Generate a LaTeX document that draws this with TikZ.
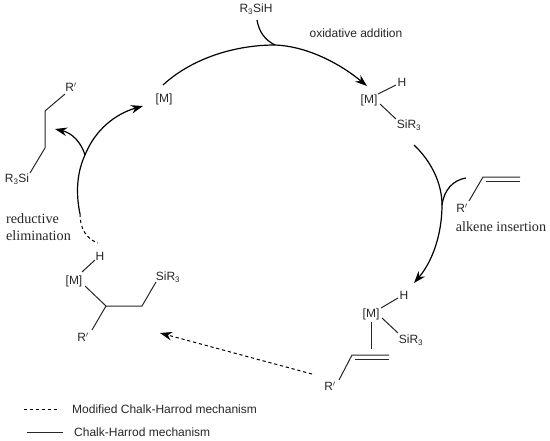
\documentclass[tikz,border=0pt]{standalone}
\usepackage{fontspec}
\setmainfont{Liberation Serif}
\setsansfont{Liberation Sans}
\usetikzlibrary{arrows.meta}
\tikzset{
  chem/.style={inner sep=0pt,font=\sffamily\fontsize{12}{14}\selectfont,text=black!85},
  lab/.style={inner sep=0pt,font=\fontsize{14.2}{17}\selectfont,align=left,text=black!85},
  bond/.style={line width=1pt,black!85},
  curve/.style={line width=1.2pt,black},
  tip/.style={-{Stealth[length=12pt,width=8.5pt]}},
  dashline/.style={line width=1pt,black,dash pattern=on 3.2pt off 2.8pt}
}
\newcommand{\subt}{\textsubscript{3}}
\begin{document}
\begin{tikzpicture}[x=1pt,y=-1pt]
\useasboundingbox (0,0) rectangle (550,440);
% top
\node[chem] (rsih) at (256,9) {R\subt SiH};
\node[chem] (oxlab) at (356,33) {oxidative addition};
\node[chem] (m1) at (164,99) {[M]};
% complex 2
\node[chem] (m2) at (369,100) {[M]};
\node[chem] (h2) at (402,82) {H};
\node[chem] (si2) at (409,125) {SiR\subt};
\coordinate (m2a) at (378,94); \coordinate (h2a) at (396,85);
\coordinate (m2b) at (380,104); \coordinate (si2a) at (396,119);
\draw[bond] (m2a) -- (h2a);
\draw[bond] (m2b) -- (si2a);
% alkene
\coordinate (a0) at (469,201); \coordinate (a1) at (483,177); \coordinate (a2) at (520,177);
\coordinate (a3) at (486,181); \coordinate (a4) at (520,181);
\node[chem] (r1) at (462,208) {R$'$};
\draw[bond,line join=miter] (a0) -- (a1) -- (a2);
\draw[bond] (a3) -- (a4);
\node[lab] (inslab) at (501,227) {alkene insertion};
% complex 3
\node[chem] (m3) at (371,314) {[M]};
\node[chem] (h3) at (404,295) {H};
\node[chem] (si3) at (411,340) {SiR\subt};
\coordinate (m3a) at (381,308); \coordinate (h3a) at (398,298);
\coordinate (m3b) at (382,318); \coordinate (si3a) at (398,333);
\coordinate (m3c) at (371,322); \coordinate (pi) at (371,349);
\draw[bond] (m3a) -- (h3a);
\draw[bond] (m3b) -- (si3a);
\draw[bond] (m3c) -- (pi);
\coordinate (b0) at (339,380); \coordinate (b1) at (352,355); \coordinate (b2) at (389,355);
\coordinate (b3) at (355,359); \coordinate (b4) at (389,359);
\node[chem] (r3) at (330,386) {R$'$};
\draw[bond,line join=miter] (b0) -- (b1) -- (b2);
\draw[bond] (b3) -- (b4);
% complex 4
\node[chem] (m4) at (74,281) {[M]};
\node[chem] (h4) at (100,256) {H};
\node[chem] (si4) at (168,277) {SiR\subt};
\node[chem] (r4) at (83,337) {R$'$};
\coordinate (m4a) at (82,272); \coordinate (h4a) at (95,260);
\coordinate (m4b) at (85,286); \coordinate (c1) at (106,306);
\coordinate (c2) at (142,306); \coordinate (si4a) at (156,282);
\coordinate (r4a) at (92,330);
\draw[bond] (m4a) -- (h4a);
\draw[bond,line join=miter] (m4b) -- (c1) -- (c2) -- (si4a);
\draw[bond] (c1) -- (r4a);
% product
\node[chem] (r5) at (71,87) {R$'$};
\node[chem] (si5) at (17,179) {R\subt Si};
\coordinate (p0) at (65,94); \coordinate (p1) at (45,111);
\coordinate (p2) at (45,148); \coordinate (p3) at (30,173);
\draw[bond,line join=miter] (p0) -- (p1) -- (p2) -- (p3);
\node[lab] (redlab) at (38.5,227) {reductive\\elimination};
% cycle arcs
\coordinate (s1) at (163,85); \coordinate (top) at (275,45); \coordinate (e1) at (367,86);
\draw[curve,tip] (s1) .. controls (190,60) and (232,45) .. (top)
   .. controls (305,46) and (338,62) .. (e1);
\coordinate (s0) at (257,20);
\draw[curve] (s0) .. controls (259,32) and (265,40) .. (top);
\coordinate (s2) at (414,145); \coordinate (mid2) at (442,205); \coordinate (e2) at (414,283);
\draw[curve,tip] (s2) .. controls (430,160) and (442,182) .. (mid2)
   .. controls (442,235) and (432,262) .. (e2);
\coordinate (s3) at (466,178);
\draw[curve] (s3) .. controls (453,180) and (444,190) .. (mid2);
\coordinate (s4) at (80,214); \coordinate (j4) at (85,155); \coordinate (e4) at (143,106);
\draw[curve,tip] (s4) .. controls (75,190) and (78,170) .. (j4)
   .. controls (95,130) and (115,114) .. (e4);
\coordinate (e5) at (55,129);
\draw[curve,tip] (j4) .. controls (81,142) and (72,133) .. (e5);
\coordinate (d1) at (98,243);
\draw[dashline] (s4) .. controls (80,228) and (86,239) .. (d1);
\coordinate (d2) at (312,374); \coordinate (d3) at (160,333);
\draw[dashline,tip] (d2) -- (d3);
% legend
\coordinate (l1) at (24,409); \coordinate (l2) at (60,409);
\coordinate (l3) at (27,432); \coordinate (l4) at (63,432);
\draw[dashline] (l1) -- (l2);
\draw[bond] (l3) -- (l4);
\node[chem,anchor=west] (t1) at (72,409) {Modified Chalk-Harrod mechanism};
\node[chem,anchor=west] (t2) at (74,432) {Chalk-Harrod mechanism};
\end{tikzpicture}
\end{document}
